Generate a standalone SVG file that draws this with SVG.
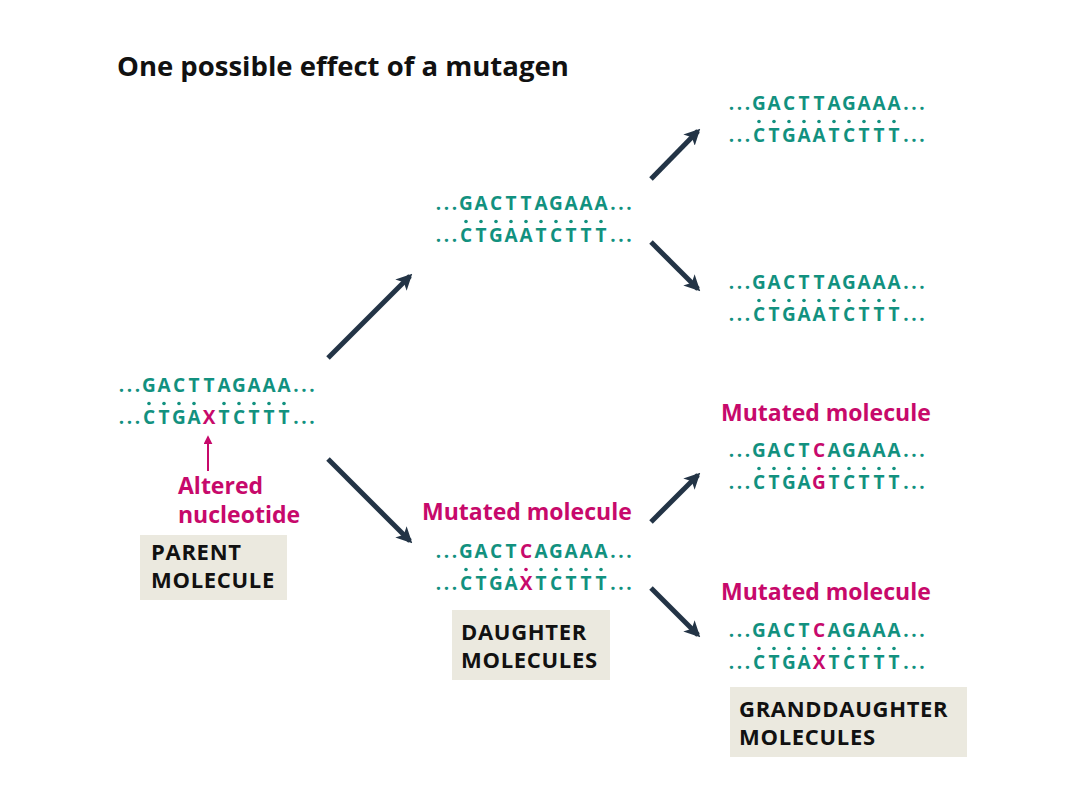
<svg xmlns="http://www.w3.org/2000/svg" width="1080" height="810" viewBox="0 0 1080 810">
<style>
.seq{font-family:"Open Sans","Liberation Sans",sans-serif;font-weight:700;font-size:19px;fill:#12917f;text-anchor:middle}
.m{fill:#c7096b}
.lab{font-family:"Open Sans","Liberation Sans",sans-serif;font-weight:700;font-size:23px;fill:#c7096b}
.box{fill:#ebe9df}
.btxt{font-family:"Open Sans","Liberation Sans",sans-serif;font-weight:700;font-size:22px;letter-spacing:0.7px;fill:#111}
.dt{fill:#12917f}
.dm{fill:#c7096b}
.arr{stroke:#233446;stroke-width:5;fill:none;marker-end:url(#ah)}
</style>
<defs>
<marker id="ah" viewBox="0 0 10 10" refX="8" refY="5" markerUnits="userSpaceOnUse" markerWidth="16" markerHeight="16" orient="auto">
<path d="M0,0 L10,5 L0,10 L2.5,5 z" fill="#233446"/>
</marker>
<marker id="mh" viewBox="0 0 10 10" refX="8" refY="5" markerUnits="userSpaceOnUse" markerWidth="9" markerHeight="9" orient="auto">
<path d="M0,0 L10,5 L0,10 z" fill="#c7096b"/>
</marker>
</defs>
<rect width="1080" height="810" fill="#fff"/>
<text x="117" y="76" font-family="Open Sans, Liberation Sans, sans-serif" font-weight="700" font-size="27.5" fill="#111">One possible effect of a mutagen</text>

<g id="parent" transform="translate(119,392)">
<text class="seq" x="2.5 10.5 18.5 30 45 60 75 90 105 120 135 150 165 177 185 193" y="0">...GACTTAGAAA...</text>
<text class="seq" y="32"><tspan x="2.5 10.5 18.5 30 45 60 75">...CTGA</tspan><tspan class="m" x="90">X</tspan><tspan x="105 120 135 150 165 177 185 193">TCTTT...</tspan></text>
<g class="dt"><circle cx="30" cy="11.5" r="1.8"/><circle cx="45" cy="11.5" r="1.8"/><circle cx="60" cy="11.5" r="1.8"/><circle cx="75" cy="11.5" r="1.8"/><circle cx="105" cy="11.5" r="1.8"/><circle cx="120" cy="11.5" r="1.8"/><circle cx="135" cy="11.5" r="1.8"/><circle cx="150" cy="11.5" r="1.8"/><circle cx="165" cy="11.5" r="1.8"/></g>
<line x1="89" y1="79" x2="89" y2="45" stroke="#c7096b" stroke-width="2" marker-end="url(#mh)"/>
<text class="lab" x="59" y="102">Altered</text>
<text class="lab" x="59" y="131">nucleotide</text>
</g>
<g id="parent-label">
<rect class="box" x="140" y="535" width="147" height="65"/>
<text class="btxt" x="151" y="560">PARENT</text>
<text class="btxt" x="151" y="588">MOLECULE</text>
</g>

<g id="daughter1" transform="translate(436,210)">
<text class="seq" x="2.5 10.5 18.5 30 45 60 75 90 105 120 135 150 165 177 185 193" y="0">...GACTTAGAAA...</text>
<text class="seq" x="2.5 10.5 18.5 30 45 60 75 90 105 120 135 150 165 177 185 193" y="32">...CTGAATCTTT...</text>
<g class="dt"><circle cx="30" cy="11.5" r="1.8"/><circle cx="45" cy="11.5" r="1.8"/><circle cx="60" cy="11.5" r="1.8"/><circle cx="75" cy="11.5" r="1.8"/><circle cx="90" cy="11.5" r="1.8"/><circle cx="105" cy="11.5" r="1.8"/><circle cx="120" cy="11.5" r="1.8"/><circle cx="135" cy="11.5" r="1.8"/><circle cx="150" cy="11.5" r="1.8"/><circle cx="165" cy="11.5" r="1.8"/></g>
</g>

<g id="daughter2" transform="translate(436,558)">
<text class="lab" x="-14" y="-38">Mutated molecule</text>
<text class="seq" y="0"><tspan x="2.5 10.5 18.5 30 45 60 75">...GACT</tspan><tspan class="m" x="90">C</tspan><tspan x="105 120 135 150 165 177 185 193">AGAAA...</tspan></text>
<text class="seq" y="32"><tspan x="2.5 10.5 18.5 30 45 60 75">...CTGA</tspan><tspan class="m" x="90">X</tspan><tspan x="105 120 135 150 165 177 185 193">TCTTT...</tspan></text>
<g class="dt"><circle cx="30" cy="11.5" r="1.8"/><circle cx="45" cy="11.5" r="1.8"/><circle cx="60" cy="11.5" r="1.8"/><circle cx="75" cy="11.5" r="1.8"/><circle cx="105" cy="11.5" r="1.8"/><circle cx="120" cy="11.5" r="1.8"/><circle cx="135" cy="11.5" r="1.8"/><circle cx="150" cy="11.5" r="1.8"/><circle cx="165" cy="11.5" r="1.8"/></g>
<circle class="dm" cx="90" cy="11.5" r="1.8"/>
</g>
<g id="daughter-label">
<rect class="box" x="452" y="610" width="158" height="70"/>
<text class="btxt" x="461" y="640">DAUGHTER</text>
<text class="btxt" x="461" y="668">MOLECULES</text>
</g>

<g id="gd1" transform="translate(729,110)">
<text class="seq" x="2.5 10.5 18.5 30 45 60 75 90 105 120 135 150 165 177 185 193" y="0">...GACTTAGAAA...</text>
<text class="seq" x="2.5 10.5 18.5 30 45 60 75 90 105 120 135 150 165 177 185 193" y="32">...CTGAATCTTT...</text>
<g class="dt"><circle cx="30" cy="11.5" r="1.8"/><circle cx="45" cy="11.5" r="1.8"/><circle cx="60" cy="11.5" r="1.8"/><circle cx="75" cy="11.5" r="1.8"/><circle cx="90" cy="11.5" r="1.8"/><circle cx="105" cy="11.5" r="1.8"/><circle cx="120" cy="11.5" r="1.8"/><circle cx="135" cy="11.5" r="1.8"/><circle cx="150" cy="11.5" r="1.8"/><circle cx="165" cy="11.5" r="1.8"/></g>
</g>

<g id="gd2" transform="translate(729,289)">
<text class="seq" x="2.5 10.5 18.5 30 45 60 75 90 105 120 135 150 165 177 185 193" y="0">...GACTTAGAAA...</text>
<text class="seq" x="2.5 10.5 18.5 30 45 60 75 90 105 120 135 150 165 177 185 193" y="32">...CTGAATCTTT...</text>
<g class="dt"><circle cx="30" cy="11.5" r="1.8"/><circle cx="45" cy="11.5" r="1.8"/><circle cx="60" cy="11.5" r="1.8"/><circle cx="75" cy="11.5" r="1.8"/><circle cx="90" cy="11.5" r="1.8"/><circle cx="105" cy="11.5" r="1.8"/><circle cx="120" cy="11.5" r="1.8"/><circle cx="135" cy="11.5" r="1.8"/><circle cx="150" cy="11.5" r="1.8"/><circle cx="165" cy="11.5" r="1.8"/></g>
</g>

<g id="gd3" transform="translate(729,457)">
<text class="lab" x="-8" y="-36">Mutated molecule</text>
<text class="seq" y="0"><tspan x="2.5 10.5 18.5 30 45 60 75">...GACT</tspan><tspan class="m" x="90">C</tspan><tspan x="105 120 135 150 165 177 185 193">AGAAA...</tspan></text>
<text class="seq" y="32"><tspan x="2.5 10.5 18.5 30 45 60 75">...CTGA</tspan><tspan class="m" x="90">G</tspan><tspan x="105 120 135 150 165 177 185 193">TCTTT...</tspan></text>
<g class="dt"><circle cx="30" cy="11.5" r="1.8"/><circle cx="45" cy="11.5" r="1.8"/><circle cx="60" cy="11.5" r="1.8"/><circle cx="75" cy="11.5" r="1.8"/><circle cx="105" cy="11.5" r="1.8"/><circle cx="120" cy="11.5" r="1.8"/><circle cx="135" cy="11.5" r="1.8"/><circle cx="150" cy="11.5" r="1.8"/><circle cx="165" cy="11.5" r="1.8"/></g>
<circle class="dm" cx="90" cy="11.5" r="1.8"/>
</g>

<g id="gd4" transform="translate(729,637)">
<text class="lab" x="-8" y="-37">Mutated molecule</text>
<text class="seq" y="0"><tspan x="2.5 10.5 18.5 30 45 60 75">...GACT</tspan><tspan class="m" x="90">C</tspan><tspan x="105 120 135 150 165 177 185 193">AGAAA...</tspan></text>
<text class="seq" y="32"><tspan x="2.5 10.5 18.5 30 45 60 75">...CTGA</tspan><tspan class="m" x="90">X</tspan><tspan x="105 120 135 150 165 177 185 193">TCTTT...</tspan></text>
<g class="dt"><circle cx="30" cy="11.5" r="1.8"/><circle cx="45" cy="11.5" r="1.8"/><circle cx="60" cy="11.5" r="1.8"/><circle cx="75" cy="11.5" r="1.8"/><circle cx="105" cy="11.5" r="1.8"/><circle cx="120" cy="11.5" r="1.8"/><circle cx="135" cy="11.5" r="1.8"/><circle cx="150" cy="11.5" r="1.8"/><circle cx="165" cy="11.5" r="1.8"/></g>
<circle class="dm" cx="90" cy="11.5" r="1.8"/>
</g>
<g id="gd-label">
<rect class="box" x="730" y="687" width="237" height="70"/>
<text class="btxt" x="739" y="717">GRANDDAUGHTER</text>
<text class="btxt" x="739" y="745">MOLECULES</text>
</g>

<g id="connectors">
<line class="arr" x1="328" y1="358" x2="410" y2="276"/>
<line class="arr" x1="328" y1="459" x2="410" y2="541"/>
<line class="arr" x1="651" y1="179" x2="698" y2="131"/>
<line class="arr" x1="651" y1="242" x2="698" y2="289"/>
<line class="arr" x1="651" y1="522" x2="698" y2="475"/>
<line class="arr" x1="651" y1="588" x2="698" y2="635"/>
</g>
</svg>
